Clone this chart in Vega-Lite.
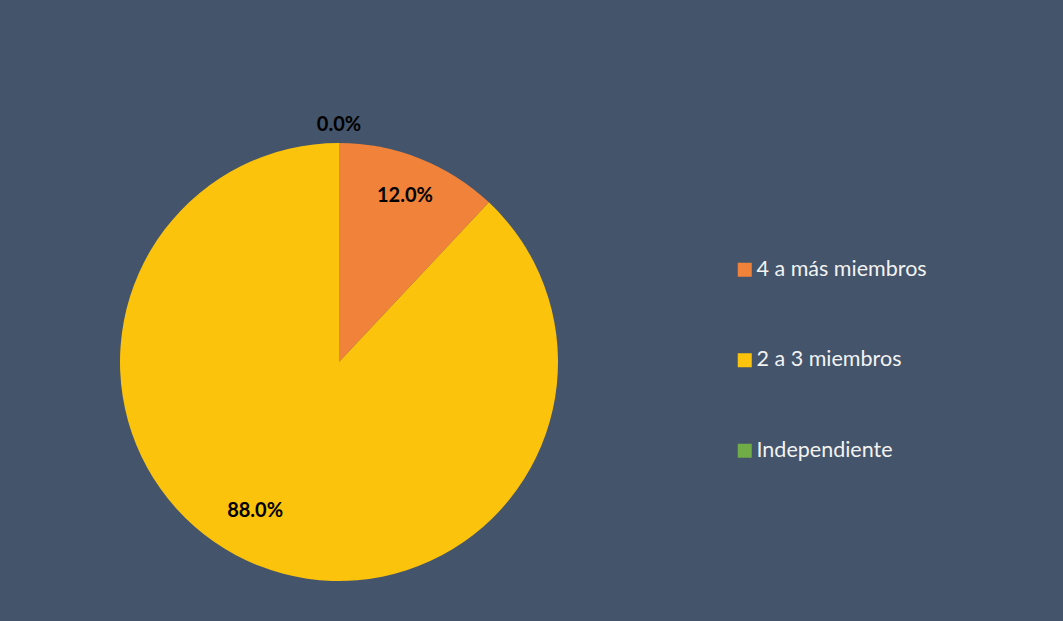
{
  "$schema": "https://vega.github.io/schema/vega-lite/v6.json",
  "autosize": {"type": "none"},
  "padding": {"left": 0, "top": 103, "right": 385, "bottom": 0},
  "width": 678,
  "height": 518,
  "background": "#44546A",
  "config": {"view": {"stroke": null}, "font": "Lato"},
  "data": {"values": [
    {"categoria": "4 a más miembros", "valor": 0.12, "orden": 1},
    {"categoria": "2 a 3 miembros", "valor": 0.88, "orden": 2},
    {"categoria": "Independiente", "valor": 0.0, "orden": 3}
  ]},
  "encoding": {
    "theta": {"field": "valor", "type": "quantitative", "stack": true},
    "order": {"field": "orden", "type": "quantitative"}
  },
  "layer": [
    {
      "mark": {"type": "arc", "outerRadius": 219},
      "encoding": {
        "color": {
          "field": "categoria", "type": "nominal",
          "sort": ["4 a más miembros", "2 a 3 miembros", "Independiente"],
          "scale": {"domain": ["4 a más miembros", "2 a 3 miembros", "Independiente"], "range": ["#F18239", "#FCC30C", "#70AD47"]},
          "legend": {
            "orient": "none", "legendX": 734, "legendY": 156, "title": null,
            "padding": 0, "symbolType": "square", "symbolSize": 196, "symbolStrokeWidth": 0,
            "labelFontSize": 21.5, "labelColor": "#F2F2F2", "labelFont": "Lato", "labelOffset": 1,
            "rowPadding": 67.5, "labelLimit": 400
          }
        }
      }
    },
    {
      "mark": {"type": "text", "radius": 179, "fontSize": 20, "fontWeight": "bold", "color": "#000000"},
      "encoding": {
        "text": {"condition": {"test": "datum.orden == 1", "field": "valor", "format": ".1%"}, "value": ""}
      }
    },
    {
      "mark": {"type": "text", "radius": 179, "dx": -18, "dy": -17, "fontSize": 20, "fontWeight": "bold", "color": "#000000"},
      "encoding": {
        "text": {"condition": {"test": "datum.orden == 2", "field": "valor", "format": ".1%"}, "value": ""}
      }
    },
    {
      "transform": [{"filter": "datum.orden == 3"}],
      "mark": {"type": "text", "radius": 237, "fontSize": 20, "fontWeight": "bold", "color": "#000000"},
      "encoding": {
        "text": {"field": "valor", "type": "quantitative", "format": ".1%"}
      }
    }
  ]
}
